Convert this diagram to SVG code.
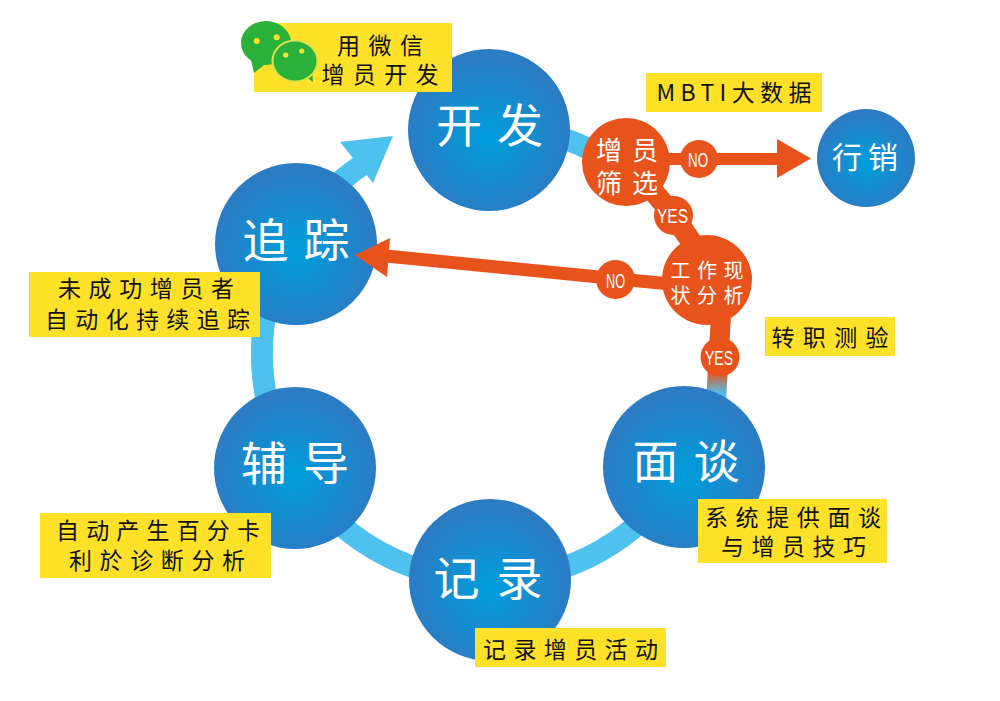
<svg xmlns="http://www.w3.org/2000/svg" width="1000" height="701" viewBox="0 0 1000 701">
<defs>
<radialGradient id="blueG" cx="0.5" cy="0.55" r="0.5">
<stop offset="0" stop-color="#009edc"/>
<stop offset="1" stop-color="#2b7cc3"/>
</radialGradient>
<linearGradient id="fadeG" gradientUnits="userSpaceOnUse" x1="0" y1="372" x2="0" y2="394">
<stop offset="0" stop-color="#e8531b"/>
<stop offset="1" stop-color="#4ec1ef"/>
</linearGradient>
<style>
.ring{fill:none;stroke:#4ec1ef;stroke-width:22}
.blue{fill:url(#blueG)}
.org{fill:#e8531b}
.oline{fill:none;stroke:#e8531b;stroke-linejoin:round}
.big{font-family:"Noto Sans CJK SC","Noto Sans",sans-serif;fill:#fff;text-anchor:middle}
.lab{fill:#ffe12a}
.lt{font-family:"Noto Sans CJK SC","Noto Sans",sans-serif;font-size:23px;fill:#111;text-anchor:middle}
.yn{font-family:"Liberation Sans","Noto Sans",sans-serif;font-size:21px;fill:#fff;text-anchor:middle}
</style>
</defs>
<rect width="1000" height="701" fill="#fff"/>

<g id="connectors">
<path class="ring" d="M694.7,448.9 A227,227 0 1 1 362.1,164.8"/>
<polygon points="393,136 340,142 373,183" fill="#4ec1ef"/>
<path class="ring" d="M489,126 A227,227 0 0 1 619.2,167"/>
<path class="oline" stroke-width="21" d="M648,185 L673,215 L697,250"/>
<path fill="none" stroke="url(#fadeG)" stroke-width="20" d="M721,315 L716,402"/>
</g>

<g id="node-kaifa"><circle class="blue" cx="489" cy="130" r="81"/><text class="big" x="489.5" y="142" font-size="46" textLength="107" lengthAdjust="spacing">开发</text></g>
<g id="node-zhuizong"><circle class="blue" cx="296" cy="244" r="81"/><text class="big" x="296" y="257" font-size="46" textLength="107" lengthAdjust="spacing">追踪</text></g>
<g id="node-fudao"><circle class="blue" cx="295" cy="468" r="81"/><text class="big" x="295" y="480" font-size="46" textLength="108" lengthAdjust="spacing">辅导</text></g>
<g id="node-jilu"><circle class="blue" cx="490" cy="580" r="81"/><text class="big" x="488" y="595" font-size="46" textLength="109" lengthAdjust="spacing">记录</text></g>
<g id="node-miantan"><circle class="blue" cx="684" cy="467" r="81"/><text class="big" x="686" y="478" font-size="46" textLength="107" lengthAdjust="spacing">面谈</text></g>
<g id="node-xingxiao"><circle class="blue" cx="866" cy="158" r="49"/><text class="big" x="865" y="168" font-size="30" textLength="66" lengthAdjust="spacing">行销</text></g>

<g id="connectors-no">
<path class="oline" stroke-width="12" d="M665,159 L780,159"/>
<polygon class="org" points="777,139 811,158.5 777,178"/>
<path class="oline" stroke-width="13" d="M670,284 L386,256"/>
<polygon class="org" points="355,255 390,238 387,277"/>
</g>

<g id="node-shaixuan"><circle class="org" cx="626" cy="162" r="44"/><text class="big" x="627" y="160" font-size="26" textLength="62" lengthAdjust="spacing">增员</text><text class="big" x="627" y="193" font-size="26" textLength="62" lengthAdjust="spacing">筛选</text></g>
<g id="node-xianzhuang"><circle class="org" cx="707" cy="280" r="45"/><text class="big" x="707" y="278" font-size="20" textLength="73" lengthAdjust="spacing">工作现</text><text class="big" x="707" y="303" font-size="20" textLength="73" lengthAdjust="spacing">状分析</text></g>

<g id="badge-no1"><circle class="org" cx="699" cy="159" r="19"/><text class="yn" x="698" y="166.5" textLength="20" lengthAdjust="spacingAndGlyphs">NO</text></g>
<g id="badge-yes1"><circle class="org" cx="673.5" cy="215.5" r="19.5"/><text class="yn" x="672.5" y="223" textLength="31" lengthAdjust="spacingAndGlyphs">YES</text></g>
<g id="badge-no2"><circle class="org" cx="615.5" cy="279.5" r="19.5"/><text class="yn" x="615.5" y="288" textLength="19" lengthAdjust="spacingAndGlyphs">NO</text></g>
<g id="badge-yes2"><circle class="org" cx="720" cy="357" r="19.5"/><text class="yn" x="719" y="365" textLength="28" lengthAdjust="spacingAndGlyphs">YES</text></g>

<g id="label-wechat">
<rect class="lab" x="254" y="23" width="198" height="69"/>
<text class="lt" x="380" y="54" textLength="86" lengthAdjust="spacing">用微信</text>
<text class="lt" x="380" y="83" textLength="117" lengthAdjust="spacing">增员开发</text>
<g id="wechat-icon">
<polygon points="250,56 254,73 268,62" fill="#2bb03a"/>
<ellipse cx="266" cy="43" rx="25" ry="22" fill="#2bb03a"/>
<polygon points="302,74 313,82 312,70" fill="#2bb03a"/>
<ellipse cx="295" cy="61" rx="22.5" ry="20.5" fill="#2bb03a" stroke="#d7e34a" stroke-width="2"/>
<circle cx="256.7" cy="41" r="3" fill="#ffe12a"/>
<circle cx="276.7" cy="37.3" r="3" fill="#ffe12a"/>
<circle cx="285.7" cy="55" r="2.6" fill="#ffe12a"/>
<circle cx="301.7" cy="51" r="2.6" fill="#ffe12a"/>
</g>
</g>
<g id="label-mbti"><rect class="lab" x="646" y="73" width="176" height="39"/><text class="lt" x="734" y="101" textLength="155" lengthAdjust="spacing">MBTI大数据</text></g>
<g id="label-zhuanzhi"><rect class="lab" x="765" y="317" width="130" height="39"/><text class="lt" x="830" y="346" textLength="117" lengthAdjust="spacing">转职测验</text></g>
<g id="label-zhuizong"><rect class="lab" x="29" y="272" width="231" height="65"/><text class="lt" x="146" y="297" textLength="176" lengthAdjust="spacing">未成功增员者</text><text class="lt" x="147.5" y="328" textLength="205" lengthAdjust="spacing">自动化持续追踪</text></g>
<g id="label-fudao"><rect class="lab" x="40" y="513" width="231" height="65"/><text class="lt" x="158" y="539" textLength="204" lengthAdjust="spacing">自动产生百分卡</text><text class="lt" x="157" y="569" textLength="176" lengthAdjust="spacing">利於诊断分析</text></g>
<g id="label-miantan"><rect class="lab" x="698" y="499" width="189" height="64"/><text class="lt" x="793" y="526" textLength="176" lengthAdjust="spacing">系统提供面谈</text><text class="lt" x="793.5" y="555" textLength="145" lengthAdjust="spacing">与增员技巧</text></g>
<g id="label-jilu"><rect class="lab" x="475" y="628" width="191" height="39"/><text class="lt" x="570.5" y="658" textLength="175" lengthAdjust="spacing">记录增员活动</text></g>
</svg>
